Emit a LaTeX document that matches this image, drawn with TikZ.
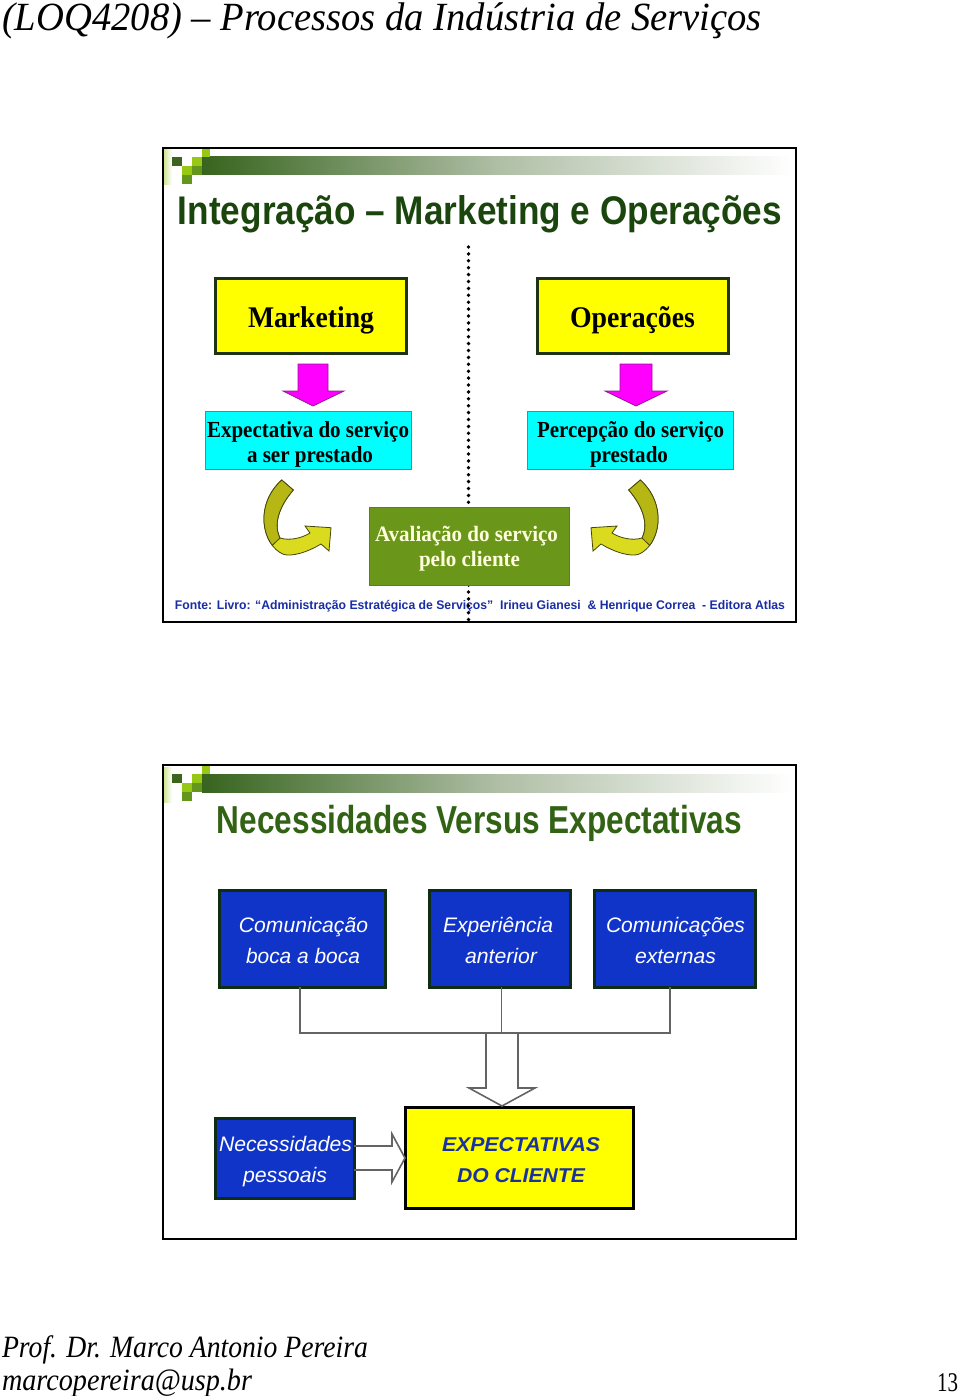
\documentclass[tikz,border=0pt]{standalone}
\usepackage{graphicx}
\usepackage{fontspec}
\setmainfont{Liberation Serif}
\newfontfamily\arialf{Liberation Sans}
\newcommand\fitw[2]{\resizebox{#1pt}{\height}{#2}}
\definecolor{titleA}{RGB}{26,70,14}
\definecolor{titleB}{RGB}{50,98,20}
\definecolor{yfill}{RGB}{255,255,0}
\definecolor{cfill}{RGB}{0,255,255}
\definecolor{yboxline}{RGB}{30,50,20}
\definecolor{cyanline}{RGB}{60,150,150}
\definecolor{pinkfill}{RGB}{255,0,255}
\definecolor{pinkline}{RGB}{150,20,150}
\definecolor{avalfill}{RGB}{106,150,26}
\definecolor{avaltext}{RGB}{255,255,220}
\definecolor{fontecol}{RGB}{25,45,165}
\definecolor{bluefill}{RGB}{16,52,200}
\definecolor{blueline}{RGB}{15,45,20}
\definecolor{expcol}{RGB}{25,50,160}
\definecolor{conncol}{RGB}{100,100,100}
\definecolor{olivedark}{RGB}{182,182,20}
\definecolor{olivelight}{RGB}{218,218,30}
\definecolor{oliveline}{RGB}{70,70,10}
\definecolor{decodark}{RGB}{60,100,30}
\definecolor{decolight}{RGB}{150,200,20}
\definecolor{decomid}{RGB}{100,150,30}
\definecolor{barstart}{RGB}{55,100,30}
\definecolor{barmid}{RGB}{175,190,165}
\newcommand\curvarrow{%
 \filldraw[arrowlight] (281.7,480) -- (293.3,490) .. controls (282,503) and (272,522) .. (280,538)
   .. controls (290,541) and (302,538) .. (310,533) -- (305,526) -- (331,527.7) -- (329,551) -- (321,544)
   .. controls (308,552) and (292,557) .. (283.3,554.3) .. controls (262,545) and (254,505) .. (281.7,480) -- cycle;
 \filldraw[arrowdark] (281.7,480) -- (293.3,490) .. controls (282,503) and (272,522) .. (280,538) -- (272.3,545.4)
   .. controls (260.2,529.6) and (259.5,500) .. (281.7,480) -- cycle;
}
\begin{document}
\begin{tikzpicture}[x=1pt,y=-1pt,
  every node/.style={inner sep=0pt,outer sep=0pt},
  frame/.style={draw=black,line width=2pt,fill=white},
  ybox/.style={draw=yboxline,line width=3pt,fill=yfill},
  cbox/.style={draw=cyanline,line width=1pt,fill=cfill},
  gbox/.style={draw=avalfill!85!black,line width=0.6pt,fill=avalfill},
  bbox/.style={draw=blueline,line width=3pt,fill=bluefill},
  xbox/.style={draw=black,line width=3pt,fill=yfill},
  pinkarrow/.style={fill=pinkfill,draw=pinkline,line width=0.8pt},
  arrowlight/.style={fill=olivelight,draw=oliveline,line width=0.8pt},
  arrowdark/.style={fill=olivedark,draw=oliveline,line width=0.8pt},
  dots/.style={line width=3.8pt,line cap=round,dash pattern=on 0pt off 6.9pt,black},
  conn/.style={draw=conncol,line width=1.6pt},
  tmk/.style={font=\bfseries\fontsize{30}{30}\selectfont},
  tcy/.style={font=\bfseries\fontsize{23}{23}\selectfont},
  tav/.style={font=\bfseries\fontsize{22}{22}\selectfont,text=avaltext},
  tbl/.style={font=\arialf\itshape\fontsize{21}{21}\selectfont,text=white},
  tex/.style={font=\arialf\bfseries\itshape\fontsize{20}{20}\selectfont,text=expcol},
  tfoot/.style={font=\itshape\fontsize{31}{31}\selectfont}]
\useasboundingbox (0,0) rectangle (960,1396);
\fill[white] (0,0) rectangle (960,1396);

% header
\node[anchor=base west,font=\itshape\fontsize{40}{40}\selectfont] (hdr) at (2,31)
  {\fitw{760}{(LOQ4208) – Processos da Indústria de Serviços}};

% slide frames
\node[frame,minimum width=633,minimum height=474] (s1) at (479.5,385) {};
\node[frame,minimum width=633,minimum height=474] (s2) at (479.5,1002) {};

% decorations
\foreach \oy in {0,617}{
 \begin{scope}[shift={(0,\oy)}]
  \shade[left color=decolight!45,right color=white] (164,150) rectangle (172,185);
  \shade[left color=barstart,right color=white,middle color=barmid] (202,157) rectangle (793,175);
  \fill[decodark] (172,157) rectangle (182,166);
  \fill[decolight] (192,157) rectangle (202,166);
  \fill[decolight] (202,149) rectangle (210,157);
  \fill[decolight] (182,166) rectangle (192,175);
  \fill[decomid] (192,166) rectangle (202,175);
  \fill[decomid] (182,175) rectangle (192,184);
 \end{scope}
}

% slide 1
\node[anchor=base,font=\arialf\bfseries\fontsize{40}{40}\selectfont,text=titleA] (ti1) at (480,225)
  {\fitw{604}{Integração – Marketing e Operações}};

\node[anchor=base,font=\arialf\bfseries\fontsize{12.5}{12.5}\selectfont,text=fontecol] (fonte) at (480,609)
  {\fitw{610}{Fonte: Livro: “Administração Estratégica de Serviços”\ \ Irineu Gianesi\ \ \& Henrique Correa\ \ - Editora Atlas}};

\coordinate (dt) at (468.5,247);
\coordinate (db) at (468.5,626);
\draw[dots] (dt) -- (db);

\node[ybox,minimum width=191,minimum height=74] (mkt) at (310.5,316) {};
\node[ybox,minimum width=191,minimum height=74] (ops) at (633,316) {};
\node[tmk,anchor=base] (mktt) at (311,327) {\fitw{126}{Marketing}};
\node[tmk,anchor=base] (opst) at (632.5,327) {\fitw{125}{Operações}};

\draw[pinkarrow] (298,364) -- (328,364) -- (328,391) -- (344,391) -- (313,406) -- (283,391) -- (298,391) -- cycle;
\draw[pinkarrow] (620,364) -- (652,364) -- (652,391) -- (667,391) -- (636,406) -- (605,391) -- (620,391) -- cycle;

\node[cbox,minimum width=206,minimum height=58] (exp) at (308,440) {};
\node[cbox,minimum width=206,minimum height=58] (per) at (630,440) {};
\node[tcy,anchor=base] (exp1) at (308,437) {\fitw{202}{Expectativa do serviço}};
\node[tcy,anchor=base] (exp2) at (310,462) {\fitw{126}{a ser prestado}};
\node[tcy,anchor=base] (per1) at (630.5,437) {\fitw{187}{Percepção do serviço}};
\node[tcy,anchor=base] (per2) at (629,462) {\fitw{78}{prestado}};

\node[gbox,minimum width=200,minimum height=78] (ava) at (469,546) {};
\node[tav,anchor=base] (ava1) at (466.5,541) {\fitw{183}{Avaliação do serviço}};
\node[tav,anchor=base] (ava2) at (469.5,566) {\fitw{101}{pelo cliente}};

\curvarrow
\begin{scope}[xshift=922pt,xscale=-1]
 \curvarrow
\end{scope}

% slide 2
\node[anchor=base,font=\arialf\bfseries\fontsize{39}{39}\selectfont,text=titleB] (ti2) at (479.5,833)
  {\fitw{525}{Necessidades Versus Expectativas}};

\node[bbox,minimum width=166,minimum height=97] (b1) at (302,938.5) {};
\node[bbox,minimum width=141,minimum height=97] (b2) at (499.5,938.5) {};
\node[bbox,minimum width=161,minimum height=97] (b3) at (674.5,938.5) {};
\node[tbl,anchor=base] (b1a) at (303.5,932) {\fitw{129}{Comunicação}};
\node[tbl,anchor=base] (b1b) at (303,963) {\fitw{114}{boca a boca}};
\node[tbl,anchor=base] (b2a) at (498,932) {\fitw{110}{Experiência}};
\node[tbl,anchor=base] (b2b) at (501,963) {\fitw{72}{anterior}};
\node[tbl,anchor=base] (b3a) at (675.5,932) {\fitw{139}{Comunicações}};
\node[tbl,anchor=base] (b3b) at (675.5,963) {\fitw{81}{externas}};

\node[bbox,minimum width=139,minimum height=80] (nec) at (284.5,1158) {};
\node[tbl,anchor=base] (neca) at (285.5,1151) {\fitw{133}{Necessidades}};
\node[tbl,anchor=base] (necb) at (285,1182) {\fitw{84}{pessoais}};

\node[xbox,minimum width=228,minimum height=101] (xpc) at (519,1157.5) {};
\node[tex,anchor=base] (xpca) at (521,1151) {\fitw{158}{EXPECTATIVAS}};
\node[tex,anchor=base] (xpcb) at (521,1182) {\fitw{128}{DO CLIENTE}};

\coordinate (jn) at (502,1033);
\coordinate (c1) at ([xshift=-2pt]b1.south);
\coordinate (c2) at ([xshift=2pt]b2.south);
\coordinate (c3) at ([xshift=-4.5pt]b3.south);
\draw[conn] (c1) |- (c3 |- jn) -- (c3);
\draw[conn] (c2) -- (c2 |- jn);
\draw[conn,line join=miter] (486,1033) -- (486,1088) -- (469,1088) -- (502,1106) -- (535,1088) -- (518,1088) -- (518,1033);
\draw[conn,line join=miter] (354,1146) -- (392,1146) -- (392,1134) -- (405,1158) -- (392,1182) -- (392,1170) -- (354,1170);

% footer
\node[tfoot,anchor=base west] (ft1) at (2,1357) {\fitw{366}{Prof. Dr. Marco Antonio Pereira}};
\node[tfoot,anchor=base west] (ft2) at (2,1390) {\fitw{250}{marcopereira@usp.br}};
\node[anchor=base east,font=\fontsize{27}{27}\selectfont] (pg) at (958,1391) {\fitw{21}{13}};
\end{tikzpicture}
\end{document}
